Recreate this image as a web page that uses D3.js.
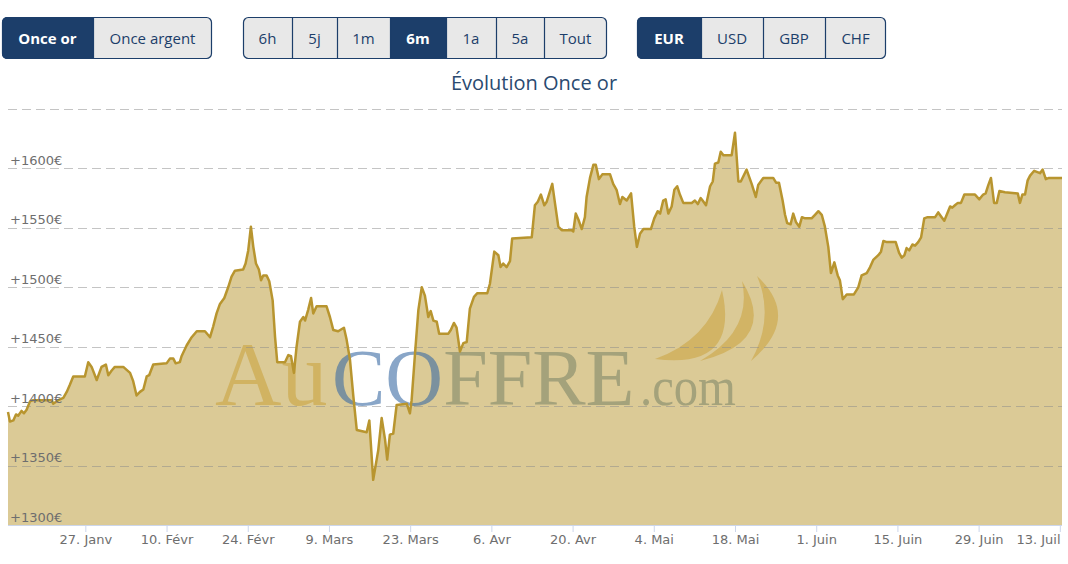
<!DOCTYPE html>
<html><head><meta charset="utf-8">
<script src="https://cdn.jsdelivr.net/npm/d3@7"></script>
<style>
html,body{margin:0;padding:0;background:#fff;}
svg{display:block;}
</style></head><body>
<svg id="c" width="1068" height="564"></svg>
<script>
// ---------- DATA ----------
const metals = ["Once or", "Once argent"];
const periods = ["6h", "5j", "1m", "6m", "1a", "5a", "Tout"];
const currencies = ["EUR", "USD", "GBP", "CHF"];
const selected = ["Once or", "6m", "EUR"];
const chartTitle = "Évolution Once or";
const watermarkParts = ["Au", "COFFRE", ".com"];

const dates = [
"01-13 16","01-14 00","01-14 14","01-15 01","01-15 10","01-16 00","01-16 10","01-16 21","01-17 11","01-18 00",
"01-21 05","01-21 11","01-22 08","01-23 05","01-23 19","01-24 08","01-24 22","01-26 22","01-27 12","01-28 02",
"01-28 23","01-29 19","01-30 13","01-30 23","01-31 13","02-01 02","02-02 13","02-03 17","02-04 06","02-04 20",
"02-05 10","02-06 00","02-06 14","02-07 00","02-07 17","02-10 00","02-10 14","02-11 04","02-11 14","02-12 07",
"02-12 14","02-13 11","02-14 08","02-15 05","02-16 15","02-17 12","02-18 01","02-18 15","02-19 05","02-19 23",
"02-20 15","02-21 05","02-21 19","02-23 05","02-23 15","02-24 02","02-24 13","02-24 23","02-25 10","02-25 22",
"02-26 07","02-26 16","02-27 06","02-27 17","02-28 07","02-28 17","02-29 02","03-01 10","03-02 00","03-02 11",
"03-02 23","03-03 10","03-04 00","03-04 14","03-04 21","03-05 10","03-05 22","03-06 07","03-06 21","03-08 14",
"03-09 04","03-09 18","03-10 14","03-11 14","03-12 01","03-12 15","03-13 05","03-13 19","03-15 12","03-15 23",
"03-16 15","03-17 12","03-18 02","03-18 16","03-19 01","03-19 12","03-20 02","03-20 16","03-22 10","03-22 23",
"03-23 06","03-23 20","03-24 10","03-25 00","03-25 13","03-26 03","03-26 13","03-27 00","03-27 14","03-28 00",
"03-29 14","03-30 00","03-30 13","03-31 00","03-31 14","04-01 04","04-01 18","04-02 07","04-03 00","04-03 14",
"04-05 07","04-05 18","04-06 12","04-07 05","04-07 14","04-08 01","04-08 15","04-09 05","04-09 14","04-12 23",
"04-13 12","04-14 00","04-14 13","04-15 03","04-15 13","04-16 12","04-16 23","04-17 13","04-18 03","04-19 20",
"04-20 03","04-20 13","04-21 00","04-21 14","04-22 03","04-22 10","04-23 00","04-23 14","04-24 00","04-24 13",
"04-25 03","04-26 11","04-27 00","04-27 14","04-28 04","04-28 14","04-29 08","04-30 02","04-30 15","05-01 02",
"05-01 15","05-02 05","05-03 12","05-04 02","05-04 16","05-05 02","05-05 15","05-06 01","05-06 12","05-07 02",
"05-07 13","05-08 01","05-08 12","05-09 02","05-10 13","05-11 02","05-11 14","05-12 02","05-12 10","05-13 00",
"05-13 17","05-14 04","05-14 13","05-15 03","05-15 13","05-16 00","05-17 10","05-18 00","05-18 14","05-19 00",
"05-20 00","05-20 21","05-21 14","05-22 00","05-22 21","05-24 14","05-25 02","05-25 14","05-26 05","05-26 15",
"05-27 00","05-27 14","05-28 01","05-28 12","05-29 02","05-29 13","05-30 02","05-31 05","05-31 19","06-01 09",
"06-01 23","06-02 12","06-03 02","06-03 13","06-04 03","06-04 17","06-05 02","06-05 14","06-06 06","06-07 12",
"06-08 06","06-08 20","06-09 17","06-10 07","06-10 20","06-11 17","06-12 04","06-12 14","06-13 04","06-14 17",
"06-15 07","06-15 18","06-16 05","06-16 14","06-17 01","06-17 14","06-18 01","06-18 14","06-19 02","06-19 15",
"06-20 05","06-21 12","06-22 01","06-22 15","06-23 02","06-24 02","06-24 11","06-24 22","06-25 10","06-25 23",
"06-26 13","06-27 05","06-28 09","06-29 03","06-29 19","06-30 05","06-30 16","07-01 03","07-01 16","07-02 03",
"07-02 14","07-03 13","07-05 18","07-06 03","07-06 13","07-07 00","07-07 11","07-07 21","07-08 14","07-09 14",
"07-10 01","07-10 14","07-11 03","07-13 09"
];
const prices = [
1395,1387,1388,1393,1392,1396,1394,1397,1404,1405,
1405,1402,1405,1407,1412,1418,1425,1425,1437,1433,
1422,1433,1435,1426,1430,1433,1433,1428,1421,1409,
1412,1414,1425,1426,1435,1436,1440,1440,1436,1437,
1442,1451,1458,1463,1463,1458,1467,1478,1486,1491,
1500,1509,1514,1515,1520,1531,1551,1534,1520,1515,
1506,1510,1510,1505,1489,1458,1437,1437,1443,1442,
1428,1450,1471,1475,1472,1481,1491,1478,1484,1484,
1475,1464,1463,1466,1456,1439,1408,1380,1378,1388,
1338,1363,1390,1372,1355,1376,1377,1401,1402,1394,
1405,1444,1481,1500,1493,1475,1480,1472,1471,1461,
1461,1464,1470,1466,1446,1453,1454,1482,1492,1495,
1495,1503,1530,1527,1517,1520,1517,1522,1541,1542,
1569,1572,1578,1569,1572,1587,1571,1551,1548,1548,
1547,1562,1557,1549,1559,1576,1592,1603,1603,1591,
1595,1595,1587,1582,1570,1576,1573,1579,1551,1534,
1545,1549,1549,1558,1564,1562,1573,1574,1562,1568,
1582,1585,1578,1571,1571,1573,1570,1575,1573,1569,
1585,1589,1604,1605,1614,1611,1611,1630,1589,1589,
1599,1587,1576,1586,1592,1592,1588,1588,1573,1561,
1554,1553,1562,1555,1551,1559,1558,1558,1561,1564,
1561,1551,1534,1512,1521,1510,1506,1490,1494,1494,
1500,1510,1512,1517,1523,1527,1530,1539,1538,1538,
1529,1525,1527,1533,1531,1536,1535,1538,1542,1558,
1559,1559,1563,1559,1556,1568,1567,1569,1571,1571,
1578,1578,1578,1574,1578,1579,1586,1592,1571,1571,
1581,1580,1579,1571,1578,1578,1590,1594,1598,1596,
1599,1591,1592,1592
];

const yGridValues = [1300, 1350, 1400, 1450, 1500, 1550, 1600, 1650];
const yTickValues = [1300, 1350, 1400, 1450, 1500, 1550, 1600];
const yTickLabels = ["+1300€", "+1350€", "+1400€", "+1450€", "+1500€", "+1550€", "+1600€"];
const xTickDates = ["2020-01-27","2020-02-10","2020-02-24","2020-03-09","2020-03-23","2020-04-06",
  "2020-04-20","2020-05-04","2020-05-18","2020-06-01","2020-06-15","2020-06-29","2020-07-13"];
const xTickLabels = ["27. Janv","10. Févr","24. Févr","9. Mars","23. Mars","6. Avr",
  "20. Avr","4. Mai","18. Mai","1. Juin","15. Juin","29. Juin","13. Juil"];

// ---------- LAYOUT / STYLE ----------
const W = 1068, H = 564;
const plot = {left: 8, right: 1062, top: 109, bottom: 525};
const navy = "#1c3e6a";
const btnFont = "'Open Sans', sans-serif";
const axisFont = "'DejaVu Sans', sans-serif";
const groupsLayout = [
  {items: metals, x: 2, widths: [91, 119]},
  {items: periods, x: 243, widths: [49, 45, 53, 56, 50, 48, 63]},
  {items: currencies, x: 637, widths: [64, 62, 62, 61]}
];

const svg = d3.select("#c");
svg.append("rect").attr("width", W).attr("height", H).attr("fill", "#fff");
const defs = svg.append("defs");

// ---------- BUTTONS ----------
groupsLayout.forEach((g, gi) => {
  const total = d3.sum(g.widths);
  const by = 17, bh = 42;
  const clipId = "clip" + gi;
  defs.append("clipPath").attr("id", clipId).append("rect")
    .attr("x", g.x).attr("y", by).attr("width", total).attr("height", bh).attr("rx", 5);
  const grp = svg.append("g");
  const inner = grp.append("g").attr("clip-path", `url(#${clipId})`);
  let cx = g.x;
  const pos = g.widths.map(w => { const p = cx; cx += w; return p; });
  inner.selectAll("rect.b").data(g.items).join("rect")
    .attr("x", (d, i) => pos[i]).attr("y", by).attr("width", (d, i) => g.widths[i]).attr("height", bh)
    .attr("fill", d => selected.includes(d) ? navy : "#e8e8e8");
  inner.selectAll("line.sep").data(g.items.slice(1)).join("line")
    .attr("x1", (d, i) => pos[i + 1] + 0.5).attr("x2", (d, i) => pos[i + 1] + 0.5)
    .attr("y1", by).attr("y2", by + bh).attr("stroke", navy).attr("stroke-width", 1.2);
  grp.append("rect").attr("x", g.x + 0.5).attr("y", by + 0.5).attr("width", total - 1).attr("height", bh - 1)
    .attr("rx", 5).attr("fill", "none").attr("stroke", navy).attr("stroke-width", 1.2);
  grp.selectAll("text").data(g.items).join("text")
    .attr("x", (d, i) => pos[i] + g.widths[i] / 2).attr("y", 44)
    .attr("text-anchor", "middle")
    .attr("font-family", btnFont).attr("font-size", 15)
    .attr("font-weight", d => selected.includes(d) ? 700 : 400)
    .attr("fill", d => selected.includes(d) ? "#fff" : navy)
    .text(d => d);
});

// ---------- TITLE ----------
svg.append("text").attr("x", 534).attr("y", 90).attr("text-anchor", "middle")
  .attr("font-family", btnFont).attr("font-size", 20).attr("fill", "#2a4a70").text(chartTitle);

// ---------- SCALES ----------
const parse = d3.timeParse("%Y-%m-%d %H");
const data = dates.map((d, i) => ({date: parse("2020-" + d), price: prices[i]}));
const x = d3.scaleTime().domain(d3.extent(data, d => d.date)).range([plot.left, plot.right]);
const y = d3.scaleLinear().domain([1300, 1650]).range([plot.bottom, plot.top]);

// ---------- AREA ----------
const area = d3.area().x(d => x(d.date)).y0(y(1300)).y1(d => y(d.price));
svg.append("path").datum(data).attr("d", area).attr("fill", "#dbca96");

// ---------- WATERMARK ----------
const wm = svg.append("g").attr("pointer-events", "none");
const crescents = [
  "M655,359 Q740,370 722,290 Q708,340 655,359 Z",
  "M700,361 Q779,341 742,281 Q753,331 700,361 Z",
  "M751,361 Q802,318 757,276 Q775,318 751,361 Z"
];
wm.selectAll("path").data(crescents).join("path").attr("d", d => d)
  .attr("fill", "#cba544").attr("fill-opacity", 0.6);
const wmText = wm.append("text").attr("y", 405).attr("font-family", "'Liberation Serif', 'DejaVu Serif', serif");
wmText.append("tspan").attr("x", 215).attr("font-size", 92).attr("fill", "#c9a440").attr("fill-opacity", 0.6).text(watermarkParts[0]);
const rest = wm.append("text").attr("y", 405).attr("x", 332).attr("font-family", "'Liberation Serif', 'DejaVu Serif', serif").attr("font-size", 80);
rest.append("tspan").attr("fill", "#3a6ba3").attr("fill-opacity", 0.6).text(watermarkParts[1].slice(0, 2));
rest.append("tspan").attr("fill", "#7e8769").attr("fill-opacity", 0.6).text(watermarkParts[1].slice(2));
wm.append("text").attr("x", 640).attr("y", 405).attr("font-family", "'Liberation Serif', 'DejaVu Serif', serif")
  .attr("font-size", 54).attr("textLength", 96).attr("lengthAdjust", "spacingAndGlyphs")
  .attr("fill", "#7e8769").attr("fill-opacity", 0.6).text(watermarkParts[2]);

// ---------- GRID ----------
svg.append("g").selectAll("line").data(yGridValues.filter(v => v > 1300)).join("line")
  .attr("x1", plot.left).attr("x2", plot.right)
  .attr("y1", d => Math.round(y(d)) + 0.5).attr("y2", d => Math.round(y(d)) + 0.5)
  .attr("stroke", "#8a8a8a").attr("stroke-opacity", 0.5).attr("stroke-width", 1.2)
  .attr("stroke-dasharray", "9,5");

// ---------- LINE ----------
const line = d3.line().x(d => x(d.date)).y(d => y(d.price));
svg.append("path").datum(data).attr("d", line).attr("fill", "none")
  .attr("stroke", "#b8952f").attr("stroke-width", 2.5).attr("stroke-linejoin", "round");

// ---------- Y LABELS ----------
svg.append("g").selectAll("text").data(yTickValues).join("text")
  .attr("x", 10).attr("y", d => y(d) - 3.5)
  .attr("font-family", axisFont).attr("font-size", 13).attr("fill", "#6e6e6e")
  .text((d, i) => yTickLabels[i]);

// ---------- X AXIS ----------
const tickDates = xTickDates.map(s => parse(s + " 00"));
const xAxis = d3.axisBottom(x).tickValues(tickDates).tickFormat((d, i) => xTickLabels[i])
  .tickSize(7).tickSizeOuter(0);
const gx = svg.append("g").attr("transform", `translate(0,${plot.bottom})`).call(xAxis);
gx.select(".domain").attr("stroke", "#ccd6eb").attr("d", `M${plot.left},0.5H${plot.right}`);
gx.selectAll(".tick line").attr("stroke", "#ccd6eb");
gx.selectAll(".tick text").attr("font-family", axisFont).attr("font-size", 13).attr("fill", "#6e6e6e");
gx.selectAll(".tick").each(function(d) {
  const t = d3.select(this).select("text");
  const bb = t.node().getBBox();
  const px = x(d);
  if (px + bb.x + bb.width > plot.right) {
    t.attr("text-anchor", "end").attr("x", plot.right - px - 2);
  }
});
</script>
</body></html>
